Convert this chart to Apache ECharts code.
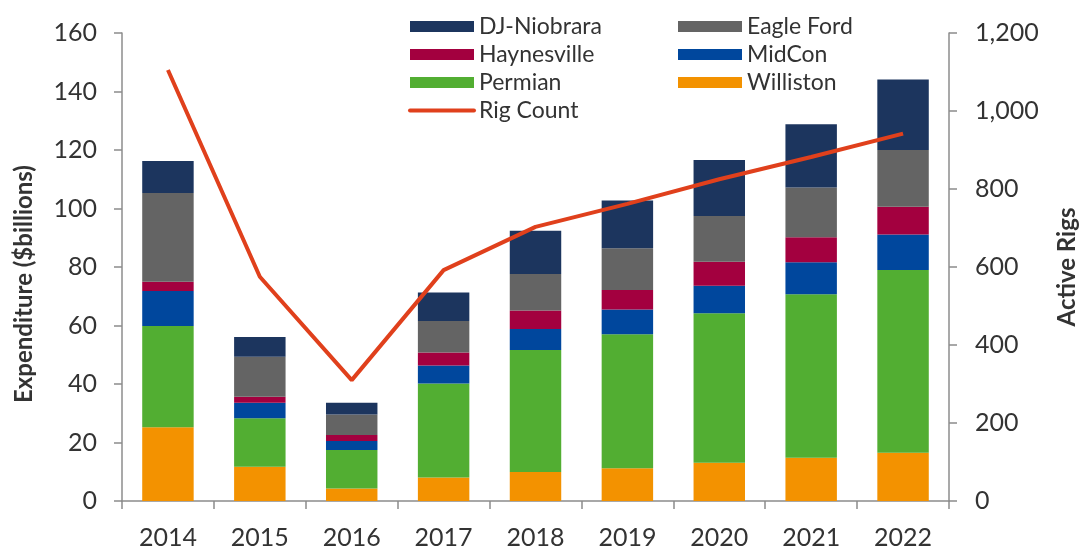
<!DOCTYPE html>
<html>
<head>
<meta charset="utf-8">
<script src="https://cdn.jsdelivr.net/npm/echarts@6/dist/echarts.min.js"></script>
<style>
  html, body { margin: 0; padding: 0; background: #fff; }
  #chart { width: 1083px; height: 547px; }
</style>
</head>
<body>
<div id="chart"></div>
<script>
// years on the x axis
const years = ['2014', '2015', '2016', '2017', '2018', '2019', '2020', '2021', '2022'];

// expenditure by basin, $billions (stacked, bottom to top)
const williston   = [25.2, 11.7, 4.3, 8.0, 9.9, 11.2, 13.1, 14.8, 16.5];
const permian     = [34.6, 16.6, 13.1, 32.2, 41.7, 45.8, 51.1, 55.9, 62.5];
const midCon      = [12.0, 5.3, 3.1, 6.1, 7.2, 8.5, 9.4, 10.9, 12.1];
const haynesville = [3.2, 2.0, 2.1, 4.5, 6.3, 6.6, 8.2, 8.6, 9.5];
const eagleFord   = [30.3, 13.7, 7.0, 10.7, 12.5, 14.3, 15.6, 17.0, 19.4];
const djNiobrara  = [10.9, 6.8, 4.0, 9.8, 14.8, 16.3, 19.2, 21.6, 24.1];

// active rigs (right axis)
const rigCount = [1105, 575, 310, 592, 703, 762, 825, 882, 942];

const textColor = '#333';
const axisColor = '#8c8c8c';
const lineColor = '#e0401c';
const fontFamily = 'Lato, "Open Sans", sans-serif';

function barSeries(name, data, color) {
  return {
    name: name,
    type: 'bar',
    stack: 'capex',
    data: data,
    barWidth: '56%',
    itemStyle: { color: color },
    emphasis: { disabled: true }
  };
}

const legendCommon = {
  top: 10,
  orient: 'vertical',
  itemWidth: 64,
  itemHeight: 11,
  itemGap: 5,
  textStyle: { fontSize: 23, color: textColor, fontFamily: fontFamily }
};

const option = {
  animation: false,
  textStyle: { fontFamily: fontFamily, color: textColor },
  grid: { left: 122, right: 134, top: 33, bottom: 46, outerBoundsMode: 'none', containLabel: false },
  legend: [
    Object.assign({}, legendCommon, {
      left: 403,
      data: [
        { name: 'DJ-Niobrara', icon: 'rect' },
        { name: 'Haynesville', icon: 'rect' },
        { name: 'Permian', icon: 'rect' },
        { name: 'Rig Count', itemStyle: { opacity: 0 }, lineStyle: { color: lineColor, width: 4, cap: 'round' } }
      ]
    }),
    Object.assign({}, legendCommon, {
      left: 673,
      data: [
        { name: 'Eagle Ford', icon: 'rect' },
        { name: 'MidCon', icon: 'rect' },
        { name: 'Williston', icon: 'rect' }
      ]
    })
  ],
  xAxis: {
    type: 'category',
    data: years,
    axisLine: { lineStyle: { color: axisColor, width: 1.5 } },
    axisTick: { show: true, length: 8, lineStyle: { color: axisColor, width: 1.5 } },
    axisLabel: { color: textColor, fontSize: 25, margin: 24 }
  },
  yAxis: [
    {
      type: 'value',
      min: 0,
      max: 160,
      interval: 20,
      name: 'Expenditure ($billions)',
      nameLocation: 'middle',
      nameGap: 86,
      nameTextStyle: { fontSize: 24, fontWeight: 'bold', color: textColor, padding: [0, 34, 0, 0] },
      axisLine: { show: true, lineStyle: { color: axisColor, width: 1.5 } },
      axisTick: { show: true, length: 8, lineStyle: { color: axisColor, width: 1.5 } },
      axisLabel: { color: textColor, fontSize: 25, margin: 25 },
      splitLine: { show: false }
    },
    {
      type: 'value',
      min: 0,
      max: 1200,
      interval: 200,
      name: 'Active Rigs',
      nameLocation: 'middle',
      nameGap: 106,
      nameTextStyle: { fontSize: 24, fontWeight: 'bold', color: textColor },
      axisLine: { show: true, lineStyle: { color: axisColor, width: 1.5 } },
      axisTick: { show: true, length: 8, lineStyle: { color: axisColor, width: 1.5 } },
      axisLabel: {
        color: textColor,
        fontSize: 25,
        margin: 26,
        formatter: function (v) { return v.toLocaleString('en-US'); }
      },
      splitLine: { show: false }
    }
  ],
  series: [
    barSeries('Williston', williston, '#f39200'),
    barSeries('Permian', permian, '#52ae32'),
    barSeries('MidCon', midCon, '#00479d'),
    barSeries('Haynesville', haynesville, '#a3003f'),
    barSeries('Eagle Ford', eagleFord, '#646464'),
    barSeries('DJ-Niobrara', djNiobrara, '#1c355e'),
    {
      name: 'Rig Count',
      type: 'line',
      yAxisIndex: 1,
      data: rigCount,
      symbol: 'none',
      lineStyle: { color: lineColor, width: 4 },
      itemStyle: { color: lineColor },
      emphasis: { disabled: true }
    }
  ]
};

const chart = echarts.init(document.getElementById('chart'));
chart.setOption(option);
</script>
</body>
</html>
